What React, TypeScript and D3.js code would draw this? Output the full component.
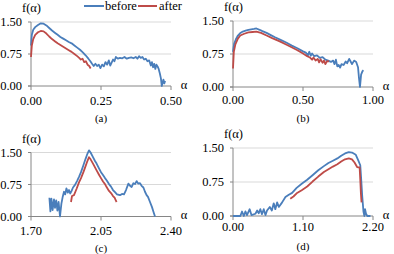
import * as d3 from "d3";

type Pt = [number, number];

// f(α) spectra, [α, f] pairs
const aBefore: Pt[] = [
  [0.0, 0.95], [0.003, 1.2], [0.008, 1.32], [0.015, 1.38], [0.025, 1.43], [0.035, 1.47], [0.045, 1.46],
  [0.055, 1.42], [0.065, 1.36], [0.075, 1.3], [0.085, 1.25], [0.095, 1.2], [0.105, 1.15], [0.115, 1.11],
  [0.125, 1.07], [0.135, 1.03], [0.145, 1.0], [0.155, 0.95], [0.165, 0.9], [0.175, 0.85], [0.185, 0.79],
  [0.195, 0.72], [0.205, 0.64], [0.212, 0.58], [0.218, 0.52], [0.224, 0.47], [0.23, 0.52], [0.236, 0.47],
  [0.242, 0.5], [0.248, 0.42], [0.254, 0.5], [0.26, 0.46], [0.266, 0.56], [0.272, 0.5], [0.278, 0.6],
  [0.283, 0.48], [0.288, 0.55], [0.293, 0.62], [0.298, 0.58], [0.303, 0.68], [0.31, 0.64], [0.318, 0.66],
  [0.326, 0.65], [0.334, 0.68], [0.342, 0.64], [0.35, 0.66], [0.358, 0.67], [0.366, 0.65], [0.374, 0.68],
  [0.38, 0.64], [0.386, 0.7], [0.392, 0.66], [0.398, 0.68], [0.404, 0.62], [0.41, 0.64], [0.416, 0.58],
  [0.422, 0.6], [0.428, 0.48], [0.432, 0.56], [0.436, 0.44], [0.44, 0.52], [0.444, 0.4], [0.448, 0.5],
  [0.452, 0.46], [0.456, 0.4], [0.46, 0.3], [0.464, 0.18], [0.467, 0.0], [0.47, 0.08], [0.473, 0.15],
  [0.476, 0.06], [0.479, 0.12],
];
const aAfter: Pt[] = [
  [0.0, 0.68], [0.003, 0.95], [0.008, 1.1], [0.015, 1.2], [0.025, 1.26], [0.035, 1.29], [0.045, 1.28],
  [0.055, 1.23], [0.065, 1.16], [0.075, 1.1], [0.085, 1.05], [0.095, 1.0], [0.105, 0.96], [0.115, 0.92],
  [0.125, 0.88], [0.135, 0.84], [0.145, 0.8], [0.155, 0.75], [0.165, 0.7], [0.172, 0.66], [0.178, 0.62],
  [0.184, 0.64], [0.19, 0.56], [0.196, 0.58], [0.202, 0.5], [0.208, 0.47], [0.213, 0.41],
];

const bBefore: Pt[] = [
  [0.0, 0.8], [0.008, 0.98], [0.02, 1.08], [0.035, 1.17], [0.05, 1.22], [0.07, 1.26], [0.09, 1.28],
  [0.11, 1.3], [0.13, 1.31], [0.15, 1.32], [0.167, 1.33], [0.19, 1.3], [0.21, 1.27], [0.24, 1.23],
  [0.27, 1.18], [0.3, 1.13], [0.34, 1.07], [0.38, 1.01], [0.42, 0.94], [0.46, 0.88], [0.5, 0.81],
  [0.52, 0.78], [0.535, 0.72], [0.545, 0.8], [0.555, 0.71], [0.565, 0.76], [0.58, 0.7], [0.6, 0.72],
  [0.62, 0.66], [0.64, 0.68], [0.66, 0.62], [0.68, 0.6], [0.7, 0.57], [0.715, 0.6], [0.725, 0.52],
  [0.735, 0.62], [0.745, 0.47], [0.755, 0.5], [0.765, 0.44], [0.775, 0.52], [0.79, 0.5], [0.805, 0.58],
  [0.815, 0.54], [0.83, 0.64], [0.84, 0.58], [0.85, 0.52], [0.865, 0.6], [0.88, 0.57], [0.893, 0.45],
  [0.9, 0.2], [0.907, 0.0], [0.915, 0.28], [0.925, 0.36], [0.932, 0.38],
];
const bAfter: Pt[] = [
  [0.0, 0.42], [0.006, 0.8], [0.017, 0.97], [0.035, 1.1], [0.052, 1.17], [0.08, 1.21], [0.11, 1.24],
  [0.14, 1.25], [0.167, 1.26], [0.2, 1.23], [0.24, 1.17], [0.28, 1.11], [0.338, 1.03], [0.39, 0.95],
  [0.457, 0.84], [0.5, 0.76], [0.53, 0.7], [0.55, 0.67], [0.565, 0.62], [0.575, 0.67], [0.59, 0.6],
  [0.605, 0.64], [0.615, 0.56], [0.625, 0.63], [0.64, 0.55], [0.65, 0.6], [0.66, 0.52], [0.672, 0.59],
  [0.686, 0.58],
];

const cBefore: Pt[] = [
  [1.792, 0.44], [1.797, 0.12], [1.802, 0.42], [1.808, 0.15], [1.815, 0.4], [1.82, 0.2], [1.826, 0.38],
  [1.832, 0.14], [1.838, 0.34], [1.845, 0.0], [1.852, 0.3], [1.858, 0.45], [1.865, 0.58], [1.871, 0.52],
  [1.877, 0.66], [1.884, 0.56], [1.89, 0.62], [1.896, 0.54], [1.903, 0.6], [1.91, 0.68], [1.92, 0.74],
  [1.93, 0.83], [1.94, 0.93], [1.95, 1.04], [1.962, 1.2], [1.972, 1.34], [1.982, 1.47], [1.99, 1.55],
  [1.998, 1.5], [2.01, 1.39], [2.02, 1.3], [2.028, 1.24], [2.04, 1.13], [2.05, 1.04], [2.06, 0.97],
  [2.07, 0.9], [2.078, 0.85], [2.09, 0.76], [2.1, 0.7], [2.11, 0.62], [2.12, 0.57], [2.13, 0.52],
  [2.145, 0.5], [2.155, 0.53], [2.165, 0.52], [2.175, 0.62], [2.187, 0.77], [2.195, 0.72], [2.203, 0.69],
  [2.212, 0.78], [2.22, 0.76], [2.228, 0.83], [2.236, 0.77], [2.245, 0.78], [2.253, 0.72], [2.262, 0.68],
  [2.27, 0.58], [2.278, 0.5], [2.285, 0.46], [2.295, 0.34], [2.305, 0.22], [2.313, 0.1], [2.32, 0.0],
];
const cAfter: Pt[] = [
  [1.9, 0.34], [1.905, 0.48], [1.915, 0.5], [1.928, 0.65], [1.94, 0.8], [1.95, 0.9], [1.962, 1.04],
  [1.972, 1.17], [1.982, 1.3], [1.99, 1.39], [1.998, 1.34], [2.01, 1.24], [2.02, 1.15], [2.028, 1.08],
  [2.04, 0.98], [2.05, 0.9], [2.06, 0.82], [2.07, 0.76], [2.078, 0.69], [2.09, 0.6], [2.1, 0.55],
  [2.11, 0.48], [2.118, 0.44], [2.124, 0.38], [2.128, 0.34],
];

const dBefore: Pt[] = [
  [0.0, 0.0], [0.115, 0.0], [0.142, 0.1], [0.17, 0.0], [0.195, 0.1], [0.22, 0.02], [0.262, 0.15],
  [0.29, 0.02], [0.352, 0.05], [0.38, 0.12], [0.405, 0.06], [0.43, 0.15], [0.455, 0.04], [0.483, 0.15],
  [0.51, 0.02], [0.535, 0.12], [0.578, 0.2], [0.61, 0.12], [0.64, 0.28], [0.665, 0.15], [0.693, 0.3],
  [0.72, 0.2], [0.772, 0.3], [0.824, 0.42], [0.877, 0.47], [0.929, 0.51], [1.0, 0.62], [1.08, 0.71],
  [1.166, 0.8], [1.25, 0.9], [1.34, 1.01], [1.428, 1.1], [1.5, 1.17], [1.57, 1.22], [1.64, 1.27],
  [1.7, 1.33], [1.76, 1.38], [1.82, 1.41], [1.87, 1.4], [1.93, 1.35], [1.97, 1.22], [2.0, 1.12],
  [2.015, 0.8], [2.03, 0.45], [2.05, 0.1], [2.065, 0.0], [2.075, 0.15], [2.09, 0.05], [2.11, 0.0],
  [2.16, 0.0],
];
const dAfter: Pt[] = [
  [0.9, 0.38], [0.95, 0.43], [1.0, 0.5], [1.08, 0.57], [1.166, 0.65], [1.25, 0.76], [1.34, 0.87],
  [1.428, 0.97], [1.5, 1.03], [1.57, 1.09], [1.64, 1.14], [1.7, 1.2], [1.76, 1.25], [1.82, 1.27],
  [1.87, 1.25], [1.91, 1.18], [1.95, 1.08], [1.99, 1.07], [2.0, 0.8], [2.01, 0.5], [2.02, 0.3],
];

const yTicks = [0, 0.75, 1.5];
const aTicks = [0, 0.25, 0.5];
const bTicks = [0, 0.5, 1.0];
const cTicks = [1.7, 2.05, 2.4];
const dTicks = [0, 1.1, 2.2];

const BLUE = "#4A7EBB";
const RED = "#BE4B48";
const FONT = "Liberation Serif";

interface PanelProps {
  left: number;
  right: number;
  top: number;
  bottom: number;
  xTicks: number[];
  before: Pt[];
  after: Pt[];
  caption: string;
  captionY: number;
  labelDy: number;
}

const Panel = ({ left, right, top, bottom, xTicks, before, after, caption, captionY, labelDy }: PanelProps) => {
  const x = d3.scaleLinear().domain([xTicks[0], xTicks[xTicks.length - 1]]).range([left, right]);
  const y = d3.scaleLinear().domain([0, 1.5]).range([bottom, top]);
  const line = d3.line<Pt>().x((d) => x(d[0])).y((d) => y(d[1]));

  return (
    <g>
      {yTicks.filter((t) => t > 0).map((t) => (
        <line key={t} x1={left} x2={right} y1={y(t)} y2={y(t)} stroke="#D9D9D9" strokeWidth={1} />
      ))}
      <line x1={left} x2={left} y1={top} y2={bottom} stroke="#868686" />
      <line x1={left - 3} x2={right} y1={bottom} y2={bottom} stroke="#868686" />
      {yTicks.map((t) => (
        <g key={t}>
          <line x1={left - 3} x2={left} y1={y(t)} y2={y(t)} stroke="#868686" />
          <text x={left - 9} y={y(t)} dy="0.35em" textAnchor="end" style={{ fontFamily: FONT, fontSize: 12.5 }}>
            {t.toFixed(2)}
          </text>
        </g>
      ))}
      {xTicks.map((t) => (
        <g key={t}>
          <line x1={x(t)} x2={x(t)} y1={bottom} y2={bottom + 4} stroke="#868686" />
          <text x={x(t)} y={bottom + labelDy} dy="0.35em" textAnchor="middle" style={{ fontFamily: FONT, fontSize: 12.5 }}>
            {t.toFixed(2)}
          </text>
        </g>
      ))}
      <text x={left - 9} y={top - 14} dy="0.35em" style={{ fontFamily: FONT, fontSize: 12.5 }}>f(α)</text>
      <text x={right + 13} y={bottom} dy="0.2em" textAnchor="middle" style={{ fontFamily: FONT, fontSize: 12.5 }}>α</text>
      <text x={(left + right) / 2} y={captionY} dy="0.35em" textAnchor="middle" style={{ fontFamily: FONT, fontSize: 11 }}>
        {caption}
      </text>
      <path d={line(before) ?? ""} fill="none" stroke={BLUE} strokeWidth={1.8} strokeLinejoin="round" />
      <path d={line(after) ?? ""} fill="none" stroke={RED} strokeWidth={1.8} strokeLinejoin="round" />
    </g>
  );
};

export default function App() {
  return (
    <svg width={394} height={254} style={{ position: "absolute", left: 0, top: 0, background: "#fff" }}>
      <Panel left={31} right={171} top={22} bottom={86} xTicks={aTicks} before={aBefore} after={aAfter}
        caption="(a)" captionY={118} labelDy={15} />
      <Panel left={233} right={373} top={21} bottom={87} xTicks={bTicks} before={bBefore} after={bAfter}
        caption="(b)" captionY={118} labelDy={13} />
      <Panel left={31} right={171} top={152.5} bottom={216.5} xTicks={cTicks} before={cBefore} after={cAfter}
        caption="(c)" captionY={248} labelDy={14} />
      <Panel left={233} right={373} top={148} bottom={216} xTicks={dTicks} before={dBefore} after={dAfter}
        caption="(d)" captionY={246} labelDy={11} />
      <line x1={84} x2={104} y1={6} y2={6} stroke={BLUE} strokeWidth={2} />
      <text x={105} y={10} style={{ fontFamily: FONT, fontSize: 12.5 }}>before</text>
      <line x1={138} x2={157} y1={6} y2={6} stroke={RED} strokeWidth={2} />
      <text x={159} y={10} style={{ fontFamily: FONT, fontSize: 12.5 }}>after</text>
    </svg>
  );
}
